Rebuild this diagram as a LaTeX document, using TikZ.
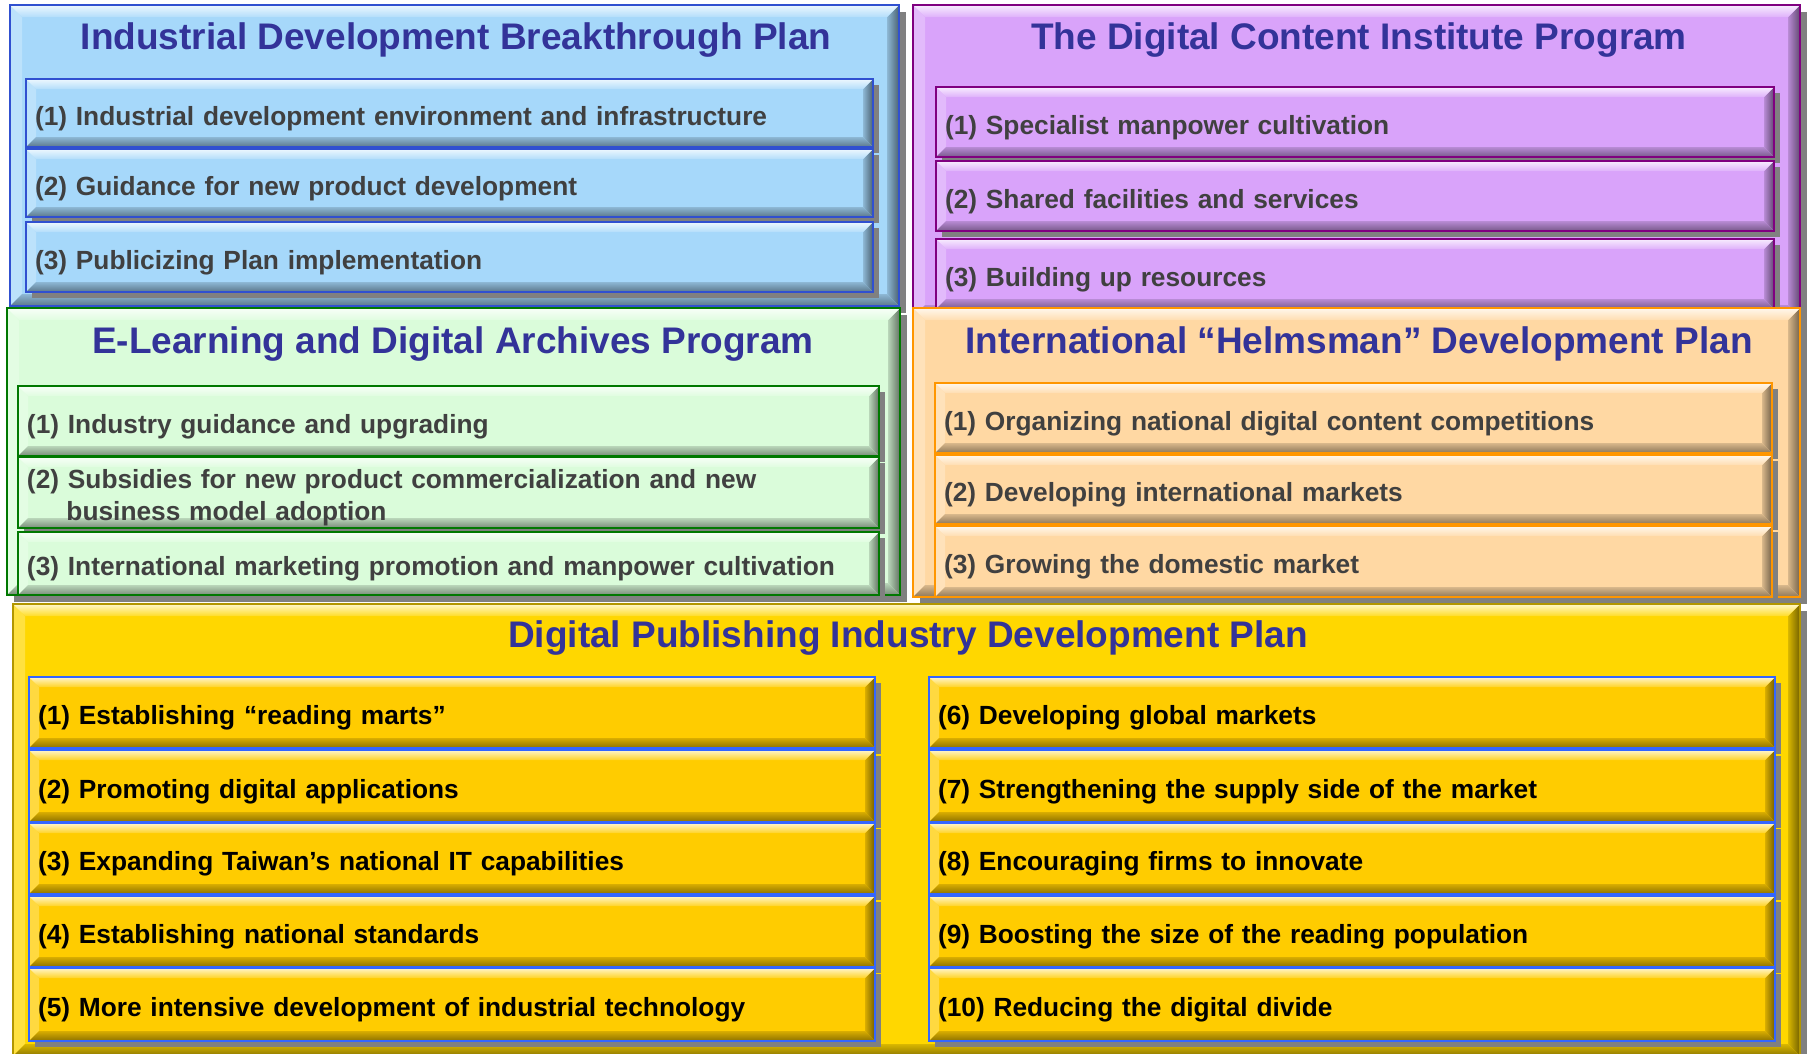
\documentclass[tikz,border=0pt]{standalone}
\usepackage{fontspec}
\setmainfont{Liberation Sans}
\usetikzlibrary{shadows,calc}

% panel and box colours
\definecolor{blueF}{RGB}{166,216,250}
\definecolor{blueL}{RGB}{48,80,208}
\definecolor{purpF}{RGB}{217,163,250}
\definecolor{purpL}{RGB}{128,0,128}
\definecolor{grnF}{RGB}{218,252,218}
\definecolor{grnL}{RGB}{0,120,0}
\definecolor{orgF}{RGB}{255,216,163}
\definecolor{orgL}{RGB}{255,150,0}
\definecolor{ylwP}{RGB}{255,215,0}
\definecolor{ylwF}{RGB}{255,204,0}
\definecolor{ylwL}{RGB}{51,102,255}
\definecolor{ttlC}{RGB}{51,51,153}
\definecolor{itemC}{RGB}{64,64,64}

\newcommand\titlefont{\fontsize{37}{40}\selectfont\bfseries}
\newcommand\itemfont{\fontsize{26.3}{32}\selectfont\bfseries}
% invisible strut that lowers the text a little below the box centre
\newcommand\itemstrut[1]{\noindent\rule{0pt}{#1}}

\begin{document}
\begin{tikzpicture}[x=1pt,y=-1pt,
  every node/.style={inner sep=0pt, outer sep=0pt},
  % raised (bevelled) face: light top/left edges, dark bottom/right edges
  bevel/.style 2 args={fill=#1, path picture={
    \path[fill=#1!75!white]
      (path picture bounding box.north west) -- (path picture bounding box.south west)
      -- ([shift={(#2,#2)}]path picture bounding box.south west)
      -- ([shift={(#2,-#2)}]path picture bounding box.north west) -- cycle;
    \path[left color=#1!85!black, right color=#1!45!black]
      (path picture bounding box.north east) -- (path picture bounding box.south east)
      -- ([shift={(-#2,#2)}]path picture bounding box.south east)
      -- ([shift={(-#2,-#2)}]path picture bounding box.north east) -- cycle;
    \path[top color=#1!20!white, bottom color=#1!85!white]
      (path picture bounding box.north west) -- (path picture bounding box.north east)
      -- ([shift={(-#2,-#2)}]path picture bounding box.north east)
      -- ([shift={(#2,-#2)}]path picture bounding box.north west) -- cycle;
    \path[top color=#1!85!black, bottom color=#1!55!black]
      (path picture bounding box.south west) -- (path picture bounding box.south east)
      -- ([shift={(-#2,#2)}]path picture bounding box.south east)
      -- ([shift={(#2,#2)}]path picture bounding box.south west) -- cycle;
  }},
  panel/.style 2 args={draw=#2, line width=2pt, bevel={#1}{12pt},
    drop shadow={shadow xshift=7pt, shadow yshift=-7pt, fill=black!50, opacity=1},
    anchor=north west},
  item/.style 2 args={draw=#2, line width=2.5pt, bevel={#1}{10pt},
    drop shadow={shadow xshift=6pt, shadow yshift=-6pt, fill=black!50, opacity=1},
    anchor=north west, inner xsep=9pt, align=left, font=\itemfont, text=itemC,
    execute at begin node={\itemstrut{30pt}}},
  ttl/.style={font=\titlefont, text=ttlC, anchor=center},
]
\useasboundingbox[fill=white] (0,0) rectangle (1808,1053);

% ---- Industrial Development Breakthrough Plan ----
\node[panel={blueF}{blueL}, minimum width=889pt, minimum height=301pt] (p1) at (10,5) {};
\node[ttl] (p1t) at (456,40) {Industrial Development Breakthrough Plan};
\node[item={blueF}{blueL}, minimum width=847pt, minimum height=68pt, text width=829pt] (p1a) at (26,79)
  {(1) Industrial development environment and infrastructure};
\node[item={blueF}{blueL}, minimum width=847pt, minimum height=68pt, text width=829pt] (p1b) at (26,149)
  {(2) Guidance for new product development};
\node[item={blueF}{blueL}, minimum width=847pt, minimum height=70pt, text width=829pt] (p1c) at (26,222)
  {(3) Publicizing Plan implementation};

% ---- The Digital Content Institute Program ----
\node[panel={purpF}{purpL}, minimum width=887pt, minimum height=312pt] (p2) at (913,5) {};
\node[ttl] (p2t) at (1359,40) {The Digital Content Institute Program};
\node[item={purpF}{purpL}, minimum width=838pt, minimum height=70pt, text width=820pt] (p2a) at (936,87)
  {(1) Specialist manpower cultivation};
\node[item={purpF}{purpL}, minimum width=838pt, minimum height=70pt, text width=820pt] (p2b) at (936,161)
  {(2) Shared facilities and services};
\node[item={purpF}{purpL}, minimum width=838pt, minimum height=70pt, text width=820pt] (p2c) at (936,239)
  {(3) Building up resources};

% ---- E-Learning and Digital Archives Program ----
\node[panel={grnF}{grnL}, minimum width=893pt, minimum height=287pt] (p3) at (7,308) {};
\node[ttl] (p3t) at (453,344) {E-Learning and Digital Archives Program};
\node[item={grnF}{grnL}, minimum width=861pt, minimum height=70pt, text width=843pt] (p3a) at (18,386)
  {(1) Industry guidance and upgrading};
\node[item={grnF}{grnL}, minimum width=861pt, minimum height=71pt, text width=843pt,
      execute at begin node={\itemstrut{23pt}}] (p3b) at (18,457)
  {(2) Subsidies for new product commercialization and new\\\hspace*{1.5em}business model adoption};
\node[item={grnF}{grnL}, minimum width=861pt, minimum height=63pt, text width=843pt] (p3c) at (18,532)
  {(3) International marketing promotion and manpower cultivation};

% ---- International "Helmsman" Development Plan ----
\node[panel={orgF}{orgL}, minimum width=887pt, minimum height=289pt] (p4) at (913,308) {};
\node[ttl] (p4t) at (1359,344) {International “Helmsman” Development Plan};
\node[item={orgF}{orgL}, minimum width=837pt, minimum height=70pt, text width=819pt] (p4a) at (935,383)
  {(1) Organizing national digital content competitions};
\node[item={orgF}{orgL}, minimum width=837pt, minimum height=69pt, text width=819pt] (p4b) at (935,455)
  {(2) Developing international markets};
\node[item={orgF}{orgL}, minimum width=837pt, minimum height=71pt, text width=819pt] (p4c) at (935,526)
  {(3) Growing the domestic market};

% ---- Digital Publishing Industry Development Plan ----
\node[panel={ylwP}{ylwP!70!black}, minimum width=1787pt, minimum height=452pt] (p5) at (13,604) {};
\node[ttl] (p5t) at (908,638) {Digital Publishing Industry Development Plan};
\foreach \n/\y/\h/\txt in {
    1/677/71/{(1) Establishing “reading marts”},
    2/750/72/{(2) Promoting digital applications},
    3/823/71/{(3) Expanding Taiwan’s national IT capabilities},
    4/896/71/{(4) Establishing national standards},
    5/968/73/{(5) More intensive development of industrial technology}}
  \node[item={ylwF}{ylwL}, text=black, minimum width=846pt, minimum height=\h pt, text width=828pt]
    (p5l\n) at (29,\y) {\txt};
\foreach \n/\y/\h/\txt in {
    6/677/71/{(6) Developing global markets},
    7/750/72/{(7) Strengthening the supply side of the market},
    8/823/71/{(8) Encouraging firms to innovate},
    9/896/71/{(9) Boosting the size of the reading population},
    10/968/73/{(10) Reducing the digital divide}}
  \node[item={ylwF}{ylwL}, text=black, minimum width=846pt, minimum height=\h pt, text width=828pt]
    (p5r\n) at (929,\y) {\txt};
\end{tikzpicture}
\end{document}
